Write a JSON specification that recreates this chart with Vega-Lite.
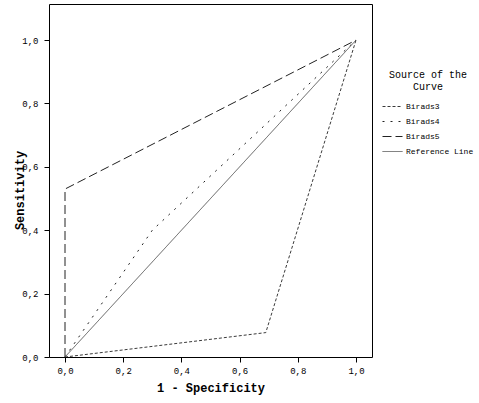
{
  "$schema": "https://vega.github.io/schema/vega-lite/v6.json",
  "width": 323,
  "height": 353,
  "autosize": {"type": "none"},
  "padding": {"left": 49, "top": 4, "right": 107, "bottom": 46},
  "background": "white",
  "config": {
    "view": {"stroke": "black", "strokeWidth": 1},
    "font": "Liberation Mono",
    "axis": {"grid": false, "domain": false, "tickColor": "black", "tickSize": 5, "labelColor": "black", "titleColor": "black", "labelFont": "Liberation Mono", "titleFont": "Liberation Mono"},
    "legend": {"labelFont": "Liberation Mono", "titleFont": "Liberation Mono"}
  },
  "data": {
    "values": [
      {"series": "Birads3", "x": 0, "y": 0, "o": 1},
      {"series": "Birads3", "x": 0.69, "y": 0.077, "o": 2},
      {"series": "Birads3", "x": 1, "y": 1, "o": 3},
      {"series": "Birads4", "x": 0, "y": 0, "o": 1},
      {"series": "Birads4", "x": 0.3, "y": 0.4, "o": 2},
      {"series": "Birads4", "x": 1, "y": 1, "o": 3},
      {"series": "Birads5", "x": 0, "y": 0, "o": 1},
      {"series": "Birads5", "x": 0, "y": 0.53, "o": 2},
      {"series": "Birads5", "x": 1, "y": 1, "o": 3},
      {"series": "Reference Line", "x": 0, "y": 0, "o": 1},
      {"series": "Reference Line", "x": 1, "y": 1, "o": 2}
    ]
  },
  "mark": {"type": "line", "strokeWidth": 1, "clip": true},
  "encoding": {
    "x": {
      "field": "x", "type": "quantitative",
      "scale": {"domain": [-0.055, 1.055], "nice": false, "zero": false},
      "axis": {
        "title": "1 - Specificity", "titleFontSize": 12, "titleFontWeight": "bold", "titlePadding": 7,
        "values": [0, 0.2, 0.4, 0.6, 0.8, 1.0],
        "labelExpr": "replace(format(datum.value, '.1f'), '.', ',')",
        "labelFontSize": 9, "labelPadding": 4
      }
    },
    "y": {
      "field": "y", "type": "quantitative",
      "scale": {"domain": [0, 1.114], "nice": false, "zero": false},
      "axis": {
        "title": "Sensitivity", "titleFontSize": 12, "titleFontWeight": "bold",
        "titleX": -30, "titleY": 186, "titleAlign": "center", "titleBaseline": "middle", "titleAngle": -90,
        "values": [0, 0.2, 0.4, 0.6, 0.8, 1.0],
        "labelExpr": "replace(format(datum.value, '.1f'), '.', ',')",
        "labelFontSize": 9, "labelPadding": 6
      }
    },
    "order": {"field": "o"},
    "color": {
      "field": "series", "type": "nominal",
      "scale": {"domain": ["Birads3", "Birads4", "Birads5", "Reference Line"], "range": ["#3a3a3a", "#222222", "#222222", "#5a5a5a"]}
    },
    "strokeDash": {
      "field": "series", "type": "nominal",
      "scale": {"domain": ["Birads3", "Birads4", "Birads5", "Reference Line"], "range": [[3, 2], [2, 6], [9, 4], [1, 0]]},
      "legend": {
        "title": ["Source of the", "Curve"],
        "titleFontSize": 10, "titleFontWeight": "normal", "titleAlign": "center", "titleAnchor": "middle",
        "titleLineHeight": 12, "titlePadding": 4,
        "labelFontSize": 8, "labelOffset": 3,
        "orient": "none", "legendX": 333, "legendY": 66,
        "symbolType": "stroke", "symbolSize": 400, "symbolStrokeWidth": 1,
        "rowPadding": -6.5, "padding": 0
      }
    }
  }
}
